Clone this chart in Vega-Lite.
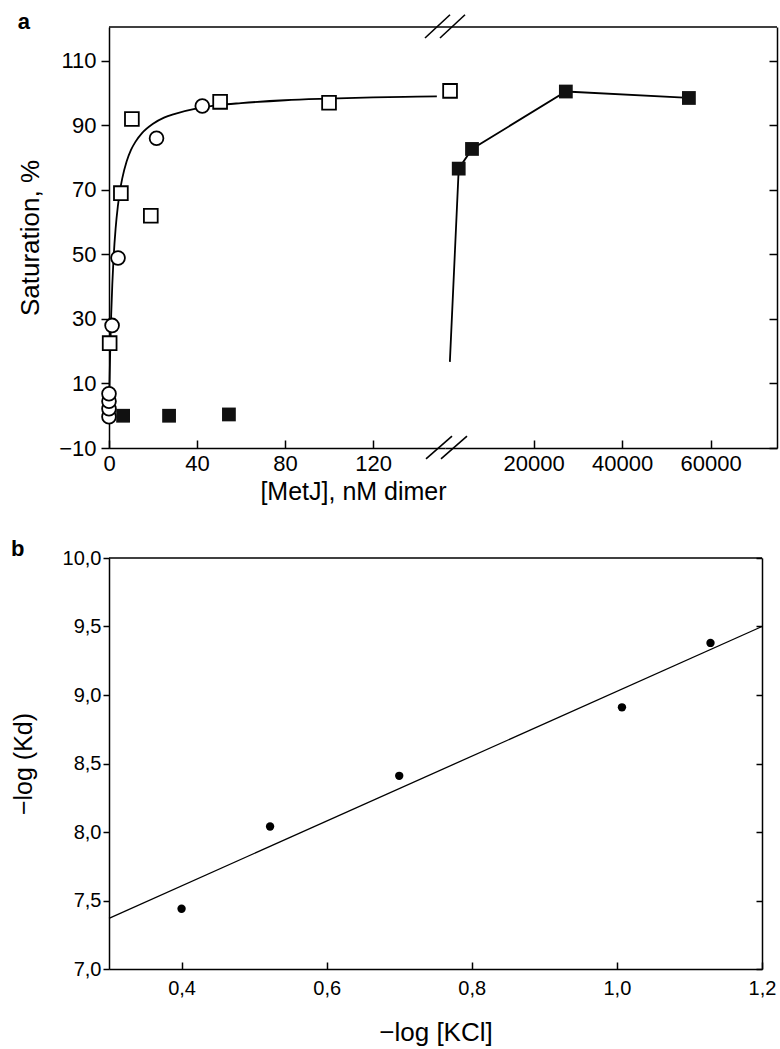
{
  "$schema": "https://vega.github.io/schema/vega-lite/v6.json",
  "padding": {"left": 11, "top": 10, "right": 2, "bottom": 2},
  "config": {
    "font": "Liberation Sans",
    "view": {"stroke": null},
    "axis": {"grid": false, "domainColor": "#000", "tickColor": "#000", "labelColor": "#000", "titleColor": "#000", "titleFontWeight": "normal", "domainWidth": 1.5, "tickWidth": 1.5, "labelFont": "Liberation Sans", "titleFont": "Liberation Sans"},
    "title": {"fontWeight": "bold", "fontSize": 22, "anchor": "start", "frame": "bounds", "color": "#000", "font": "Liberation Sans"}
  },
  "spacing": 34,
  "vconcat": [
    {
      "title": {"text": "a", "offset": -20},
      "bounds": "flush",
      "spacing": 0,
      "hconcat": [
        {
          "width": 336,
          "height": 421,
          "layer": [
            {
              "data": {"values": [
                {"x": 0, "y": 0}, {"x": 0.25, "y": 10.3}, {"x": 0.5, "y": 18.6}, {"x": 1, "y": 31.4}, {"x": 1.5, "y": 40.7}, {"x": 2, "y": 47.9}, {"x": 3, "y": 58.0}, {"x": 4, "y": 64.8}, {"x": 5, "y": 69.8}, {"x": 6, "y": 73.5}, {"x": 8, "y": 78.8}, {"x": 10, "y": 82.4}, {"x": 12, "y": 84.9}, {"x": 15, "y": 87.6}, {"x": 20, "y": 90.5}, {"x": 25, "y": 92.4}, {"x": 30, "y": 93.6}, {"x": 40, "y": 95.3}, {"x": 50, "y": 96.3}, {"x": 60, "y": 96.9}, {"x": 80, "y": 97.8}, {"x": 100, "y": 98.3}, {"x": 120, "y": 98.7}, {"x": 140, "y": 98.9}, {"x": 149, "y": 99.0}
              ]},
              "mark": {"type": "line", "color": "#000", "strokeWidth": 1.8, "interpolate": "monotone"},
              "encoding": {
                "x": {"field": "x", "type": "quantitative", "scale": {"domain": [0, 152.7], "nice": false, "zero": false},
                  "axis": {"orient": "bottom", "values": [0, 40, 80, 120], "tickSize": -8, "labelPadding": 13, "labelFontSize": 22, "labelFlush": false, "title": "[MetJ], nM dimer", "titleFontSize": 25, "titleX": 244, "titleAlign": "center", "titlePadding": 5}},
                "y": {"field": "y", "type": "quantitative", "scale": {"domain": [-10, 120.5], "nice": false, "zero": false},
                  "axis": {"orient": "left", "values": [-10, 10, 30, 50, 70, 90, 110], "tickSize": 8, "labelPadding": 5, "labelFontSize": 22, "title": "Saturation, %", "titleFontSize": 26, "titlePadding": 15}}
              }
            },
            {
              "data": {"values": [
                {"x": 0.3, "y": 22.5}, {"x": 5.4, "y": 69}, {"x": 10.4, "y": 92}, {"x": 19, "y": 62}, {"x": 50.5, "y": 97.3}, {"x": 100, "y": 97}, {"x": 155, "y": 100.7}
              ]},
              "mark": {"type": "point", "shape": "square", "filled": true, "fill": "#fff", "stroke": "#000", "strokeWidth": 1.8, "size": 190, "opacity": 1},
              "encoding": {
                "x": {"field": "x", "type": "quantitative", "scale": {"domain": [0, 152.7], "nice": false, "zero": false}},
                "y": {"field": "y", "type": "quantitative", "scale": {"domain": [-10, 120.5], "nice": false, "zero": false}}
              }
            },
            {
              "data": {"values": [
                {"x": 0, "y": -0.3}, {"x": 0, "y": 2.2}, {"x": 0, "y": 4.5}, {"x": 0, "y": 6.8}, {"x": 1.4, "y": 28}, {"x": 4.1, "y": 48.9}, {"x": 21.6, "y": 86}, {"x": 42.4, "y": 96}
              ]},
              "mark": {"type": "point", "shape": "circle", "filled": true, "fill": "#fff", "stroke": "#000", "strokeWidth": 1.8, "size": 190, "opacity": 1},
              "encoding": {
                "x": {"field": "x", "type": "quantitative", "scale": {"domain": [0, 152.7], "nice": false, "zero": false}},
                "y": {"field": "y", "type": "quantitative", "scale": {"domain": [-10, 120.5], "nice": false, "zero": false}}
              }
            },
            {
              "data": {"values": [
                {"x": 6.4, "y": 0}, {"x": 27.3, "y": 0}, {"x": 54.5, "y": 0.4}
              ]},
              "mark": {"type": "point", "shape": "square", "filled": true, "color": "#111", "size": 190, "opacity": 1},
              "encoding": {
                "x": {"field": "x", "type": "quantitative", "scale": {"domain": [0, 152.7], "nice": false, "zero": false}},
                "y": {"field": "y", "type": "quantitative", "scale": {"domain": [-10, 120.5], "nice": false, "zero": false}}
              }
            },
            {
              "data": {"values": [{}]},
              "mark": {"type": "rule", "color": "#000", "strokeWidth": 1.5},
              "encoding": {
                "y": {"datum": 120.5, "type": "quantitative", "scale": {"domain": [-10, 120.5], "nice": false, "zero": false}}
              }
            }
          ]
        },
        {
          "width": 332,
          "height": 421,
          "layer": [
            {
              "data": {"values": [
                {"x": 1100, "y": 16.7}, {"x": 3100, "y": 76.6}, {"x": 6100, "y": 82.7}, {"x": 27300, "y": 100.5}, {"x": 55100, "y": 98.5}
              ]},
              "mark": {"type": "line", "color": "#000", "strokeWidth": 1.8},
              "encoding": {
                "x": {"field": "x", "type": "quantitative", "scale": {"domain": [0, 75000], "nice": false, "zero": false},
                  "axis": {"orient": "bottom", "values": [20000, 40000, 60000], "format": "d", "tickSize": -8, "labelPadding": 13, "labelFontSize": 22, "labelFlush": false, "title": null}},
                "y": {"field": "y", "type": "quantitative", "scale": {"domain": [-10, 120.5], "nice": false, "zero": false},
                  "axis": {"orient": "right", "values": [-10, 10, 30, 50, 70, 90, 110], "tickSize": -8, "labels": false, "title": null}}
              }
            },
            {
              "data": {"values": [
                {"x": 3100, "y": 76.6}, {"x": 6100, "y": 82.7}, {"x": 27300, "y": 100.5}, {"x": 55100, "y": 98.5}
              ]},
              "mark": {"type": "point", "shape": "square", "filled": true, "color": "#111", "size": 190, "opacity": 1},
              "encoding": {
                "x": {"field": "x", "type": "quantitative", "scale": {"domain": [0, 75000], "nice": false, "zero": false}},
                "y": {"field": "y", "type": "quantitative", "scale": {"domain": [-10, 120.5], "nice": false, "zero": false}}
              }
            },
            {
              "data": {"values": [{}]},
              "mark": {"type": "rule", "color": "#000", "strokeWidth": 1.5},
              "encoding": {
                "y": {"datum": 120.5, "type": "quantitative", "scale": {"domain": [-10, 120.5], "nice": false, "zero": false}}
              }
            },
            {
              "data": {"values": [{}]},
              "mark": {"type": "rule", "color": "#000", "strokeWidth": 1.6},
              "encoding": {
                "x": {"datum": -4292, "type": "quantitative", "scale": {"domain": [0, 75000], "nice": false, "zero": false}},
                "x2": {"datum": 1581},
                "y": {"datum": -13.4, "type": "quantitative", "scale": {"domain": [-10, 120.5], "nice": false, "zero": false}},
                "y2": {"datum": -6.3}
              }
            },
            {
              "data": {"values": [{}]},
              "mark": {"type": "rule", "color": "#000", "strokeWidth": 1.6},
              "encoding": {
                "x": {"datum": -904, "type": "quantitative", "scale": {"domain": [0, 75000], "nice": false, "zero": false}},
                "x2": {"datum": 4970},
                "y": {"datum": -13.4, "type": "quantitative", "scale": {"domain": [-10, 120.5], "nice": false, "zero": false}},
                "y2": {"datum": -6.3}
              }
            },
            {
              "data": {"values": [{}]},
              "mark": {"type": "rule", "color": "#000", "strokeWidth": 1.6},
              "encoding": {
                "x": {"datum": -4518, "type": "quantitative", "scale": {"domain": [0, 75000], "nice": false, "zero": false}},
                "x2": {"datum": 1130},
                "y": {"datum": 117.1, "type": "quantitative", "scale": {"domain": [-10, 120.5], "nice": false, "zero": false}},
                "y2": {"datum": 124.3}
              }
            },
            {
              "data": {"values": [{}]},
              "mark": {"type": "rule", "color": "#000", "strokeWidth": 1.6},
              "encoding": {
                "x": {"datum": -1130, "type": "quantitative", "scale": {"domain": [0, 75000], "nice": false, "zero": false}},
                "x2": {"datum": 4518},
                "y": {"datum": 117.1, "type": "quantitative", "scale": {"domain": [-10, 120.5], "nice": false, "zero": false}},
                "y2": {"datum": 124.3}
              }
            }
          ]
        }
      ]
    },
    {
      "title": {"text": "b", "offset": -13},
      "width": 653,
      "height": 411,
      "layer": [
        {
          "data": {"values": [{"x": 0.3, "y": 7.37}, {"x": 1.2, "y": 9.5}]},
          "mark": {"type": "line", "color": "#000", "strokeWidth": 1.3},
          "encoding": {
            "x": {"field": "x", "type": "quantitative", "scale": {"domain": [0.3, 1.2], "nice": false, "zero": false},
              "axis": {"orient": "bottom", "values": [0.4, 0.6, 0.8, 1.0, 1.2], "labelExpr": "replace(format(datum.value, '.1f'), '.', ',')", "tickSize": -7, "labelPadding": 16, "labelFontSize": 20, "labelFlush": false, "title": "−log [KCl]", "titleFontSize": 26, "titlePadding": 21}},
            "y": {"field": "y", "type": "quantitative", "scale": {"domain": [7, 10], "nice": false, "zero": false},
              "axis": {"orient": "left", "values": [7, 7.5, 8, 8.5, 9, 9.5, 10], "labelExpr": "replace(format(datum.value, '.1f'), '.', ',')", "tickSize": 6, "labelPadding": 2, "labelFontSize": 20, "title": "−log (Kd)", "titleFontSize": 25, "titlePadding": 26}}
          }
        },
        {
          "data": {"values": [
            {"x": 0.4, "y": 7.44}, {"x": 0.522, "y": 8.04}, {"x": 0.7, "y": 8.41}, {"x": 1.007, "y": 8.91}, {"x": 1.129, "y": 9.38}
          ]},
          "mark": {"type": "point", "shape": "circle", "filled": true, "color": "#000", "size": 70, "opacity": 1},
          "encoding": {
            "x": {"field": "x", "type": "quantitative", "scale": {"domain": [0.3, 1.2], "nice": false, "zero": false}},
            "y": {"field": "y", "type": "quantitative", "scale": {"domain": [7, 10], "nice": false, "zero": false}, "axis": null}
          }
        },
        {
          "data": {"values": [{}]},
          "mark": {"type": "rule", "color": "#000", "strokeWidth": 1.5},
          "encoding": {
            "y": {"datum": 10, "type": "quantitative", "scale": {"domain": [7, 10], "nice": false, "zero": false},
              "axis": {"orient": "right", "values": [7, 7.5, 8, 8.5, 9, 9.5, 10], "tickSize": -6, "labels": false, "title": null}}
          }
        }
      ]
    }
  ]
}
